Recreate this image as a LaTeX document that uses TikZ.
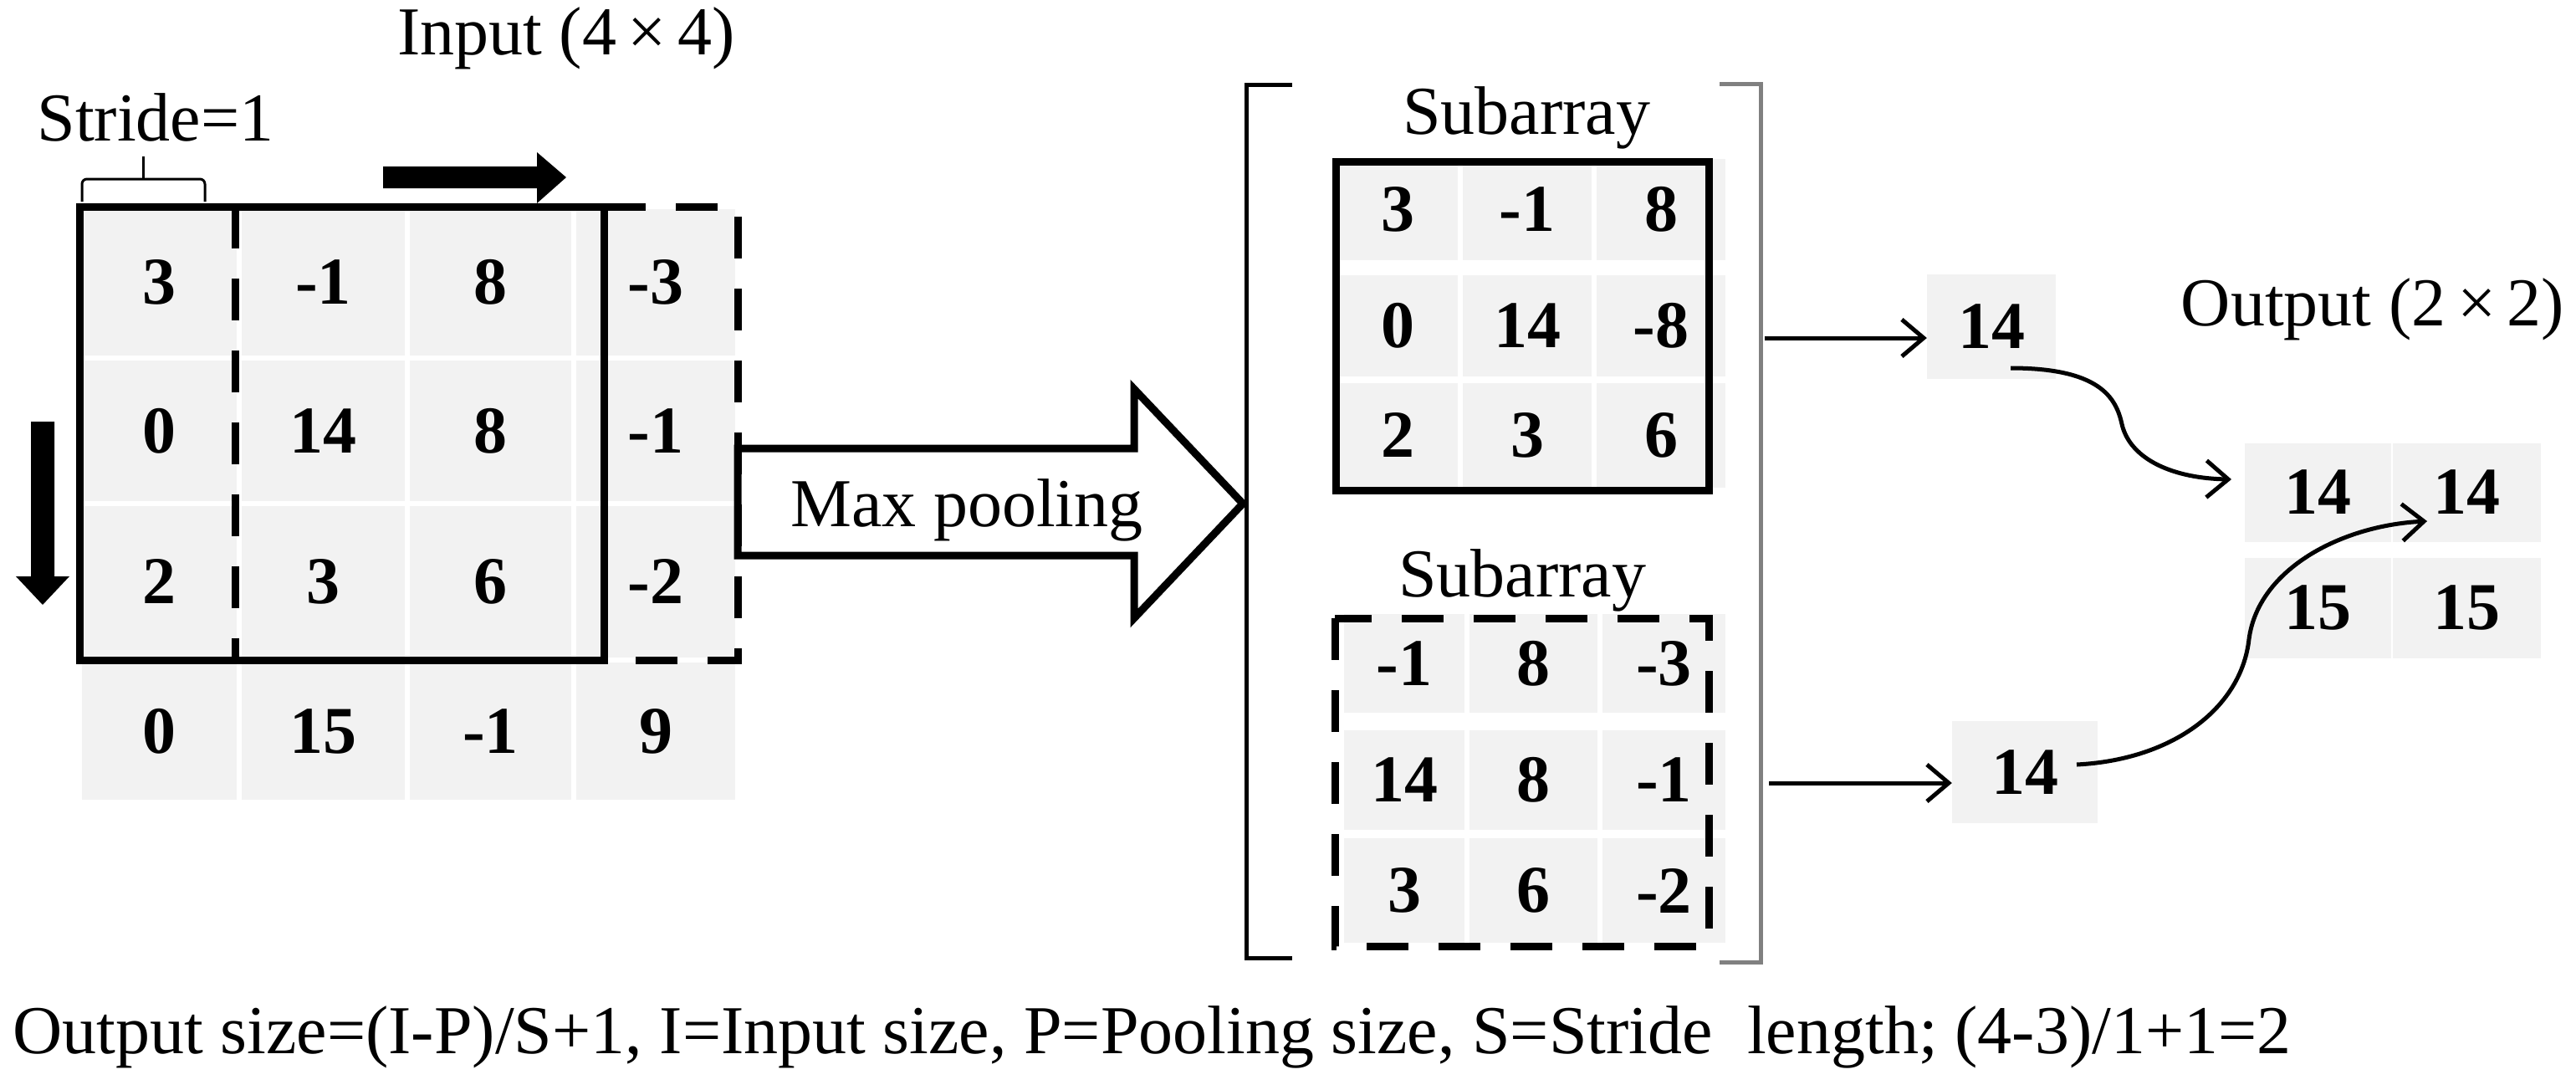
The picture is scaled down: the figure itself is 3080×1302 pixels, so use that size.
\documentclass[tikz,border=0pt]{standalone}
\usepackage{fontspec}
\setmainfont{Liberation Serif}
\usetikzlibrary{arrows.meta}
\definecolor{cellgray}{HTML}{F2F2F2}
\definecolor{brgray}{HTML}{808080}
\newcommand\cel[6]{\node[cell,minimum width=#4pt,minimum height=#5pt] (#1) at (#2,#3) {#6};}
\begin{document}
\begin{tikzpicture}[x=1pt,y=-1pt,
  cell/.style={fill=cellgray,inner sep=0pt,font=\fontsize{80}{82}\selectfont\bfseries},
  lab/.style={inner sep=0pt,font=\fontsize{82}{84}\selectfont},
  thick box/.style={line width=9pt},
  dbox/.style={line width=9pt,dash pattern=on 50pt off 36pt},
  thin arrow/.style={line width=5pt,-{Straight Barb[length=26pt,width=44pt,line width=5pt]}}]
\useasboundingbox (0,0) rectangle (3080,1302);
% input grid
\cel{a11}{190.5}{337.5}{185}{175}{3}
\cel{a12}{386.5}{337.5}{195}{175}{-1}
\cel{a13}{586.5}{337.5}{193}{175}{8}
\cel{a14}{784}{337.5}{190}{175}{-3}
\cel{a21}{190.5}{515}{185}{168}{0}
\cel{a22}{386.5}{515}{195}{168}{14}
\cel{a23}{586.5}{515}{193}{168}{8}
\cel{a24}{784}{515}{190}{168}{-1}
\cel{a31}{190.5}{695.5}{185}{181}{2}
\cel{a32}{386.5}{695.5}{195}{181}{3}
\cel{a33}{586.5}{695.5}{193}{181}{6}
\cel{a34}{784}{695.5}{190}{181}{-2}
\cel{a41}{190.5}{874}{185}{164}{0}
\cel{a42}{386.5}{874}{195}{164}{15}
\cel{a43}{586.5}{874}{193}{164}{-1}
\cel{a44}{784}{874}{190}{164}{9}
\draw[thick box] (95,247) rectangle (722,789);
\draw[dbox] (281,247) -- (281,789);
\draw[dbox] (722,247) -- (882,247) -- (882,789) -- (722,789);
% titles
\node[lab] (tin) at (677,46) {Input (4\,×\,4)};
\node[lab] (tst) at (186,140) {Stride=1};
\draw[line width=3pt,rounded corners=6pt] (98,241) -- (98,214) -- (245,214) -- (245,241);
\draw[line width=3pt] (171,214) -- (171,187);
% black arrows
\fill (458,199) -- (642,199) -- (642,182) -- (677,212) -- (642,243) -- (642,225) -- (458,225) -- cycle;
\fill (37,504) -- (65,504) -- (65,689) -- (83,689) -- (51,723) -- (19,689) -- (37,689) -- cycle;
% max pooling arrow
\draw[line width=9pt,line join=miter] (882,536) -- (1356,536) -- (1356,465) -- (1486,602) -- (1356,739) -- (1356,664) -- (882,664) -- cycle;
\node[lab] (mp) at (1156,610) {Max pooling};
% brackets
\draw[line width=5pt] (1545,101) -- (1490,101) -- (1490,1145) -- (1545,1145);
\draw[line width=5pt,brgray] (2056,100) -- (2105,100) -- (2105,1150) -- (2056,1150);
% subarray 1
\node[lab] (s1t) at (1825,141) {Subarray};
\cel{b11}{1671.5}{250.5}{143}{121}{3}
\cel{b12}{1826}{250.5}{154}{121}{-1}
\cel{b13}{1986}{250.5}{154}{121}{8}
\cel{b21}{1671.5}{389.5}{143}{121}{0}
\cel{b22}{1826}{389.5}{154}{121}{14}
\cel{b23}{1986}{389.5}{154}{121}{-8}
\cel{b31}{1671.5}{520.5}{143}{125}{2}
\cel{b32}{1826}{520.5}{154}{125}{3}
\cel{b33}{1986}{520.5}{154}{125}{6}
\draw[thick box] (1597,193) rectangle (2043,586);
% subarray 2
\node[lab] (s2t) at (1820,694) {Subarray};
\cel{c11}{1679}{793}{144}{118}{-1}
\cel{c12}{1833.5}{793}{153}{118}{8}
\cel{c13}{1989.5}{793}{147}{118}{-3}
\cel{c21}{1679}{932.5}{144}{119}{14}
\cel{c22}{1833.5}{932.5}{153}{119}{8}
\cel{c23}{1989.5}{932.5}{147}{119}{-1}
\cel{c31}{1679}{1064.5}{144}{125}{3}
\cel{c32}{1833.5}{1064.5}{153}{125}{6}
\cel{c33}{1989.5}{1064.5}{147}{125}{-2}
\draw[dbox] (1596,739) rectangle (2043,1131);
% max nodes
\cel{m1}{2381}{390.5}{154}{125}{14}
\cel{m2}{2421}{923}{174}{122}{14}
% output
\node[lab] (ot) at (2837,370) {Output (2\,×\,2)};
\cel{o11}{2771.5}{588.5}{175}{118}{14}
\cel{o12}{2949.5}{588.5}{177}{118}{14}
\cel{o21}{2771.5}{726.5}{175}{120}{15}
\cel{o22}{2949.5}{726.5}{177}{120}{15}
% connectors
\coordinate (p1) at (2110,404);
\coordinate (p2) at (2115,936);
\draw[thin arrow] (p1) -- (p1 -| m1.west);
\draw[thin arrow] (p2) -- (p2 -| m2.west);
\coordinate (q1) at (2404,440);
\coordinate (q2) at (2668,573);
\coordinate (q3) at (2483,914);
\coordinate (q4) at (2902,623);
\draw[thin arrow] (q1) .. controls (2510,440) and (2530,475) .. (2537,507) .. controls (2547,550) and (2600,572) .. (q2);
\draw[thin arrow] (q3) .. controls (2600,908) and (2680,845) .. (2689,764) .. controls (2700,680) and (2800,628) .. (q4);
% formula
\node[lab,anchor=west,font=\fontsize{82}{84}\selectfont] (fm) at (15,1240) {Output size=(I-P)/S+1, I=Input size, P=Pooling size, S=Stride\ \ length; (4-3)/1+1=2};
\end{tikzpicture}
\end{document}
